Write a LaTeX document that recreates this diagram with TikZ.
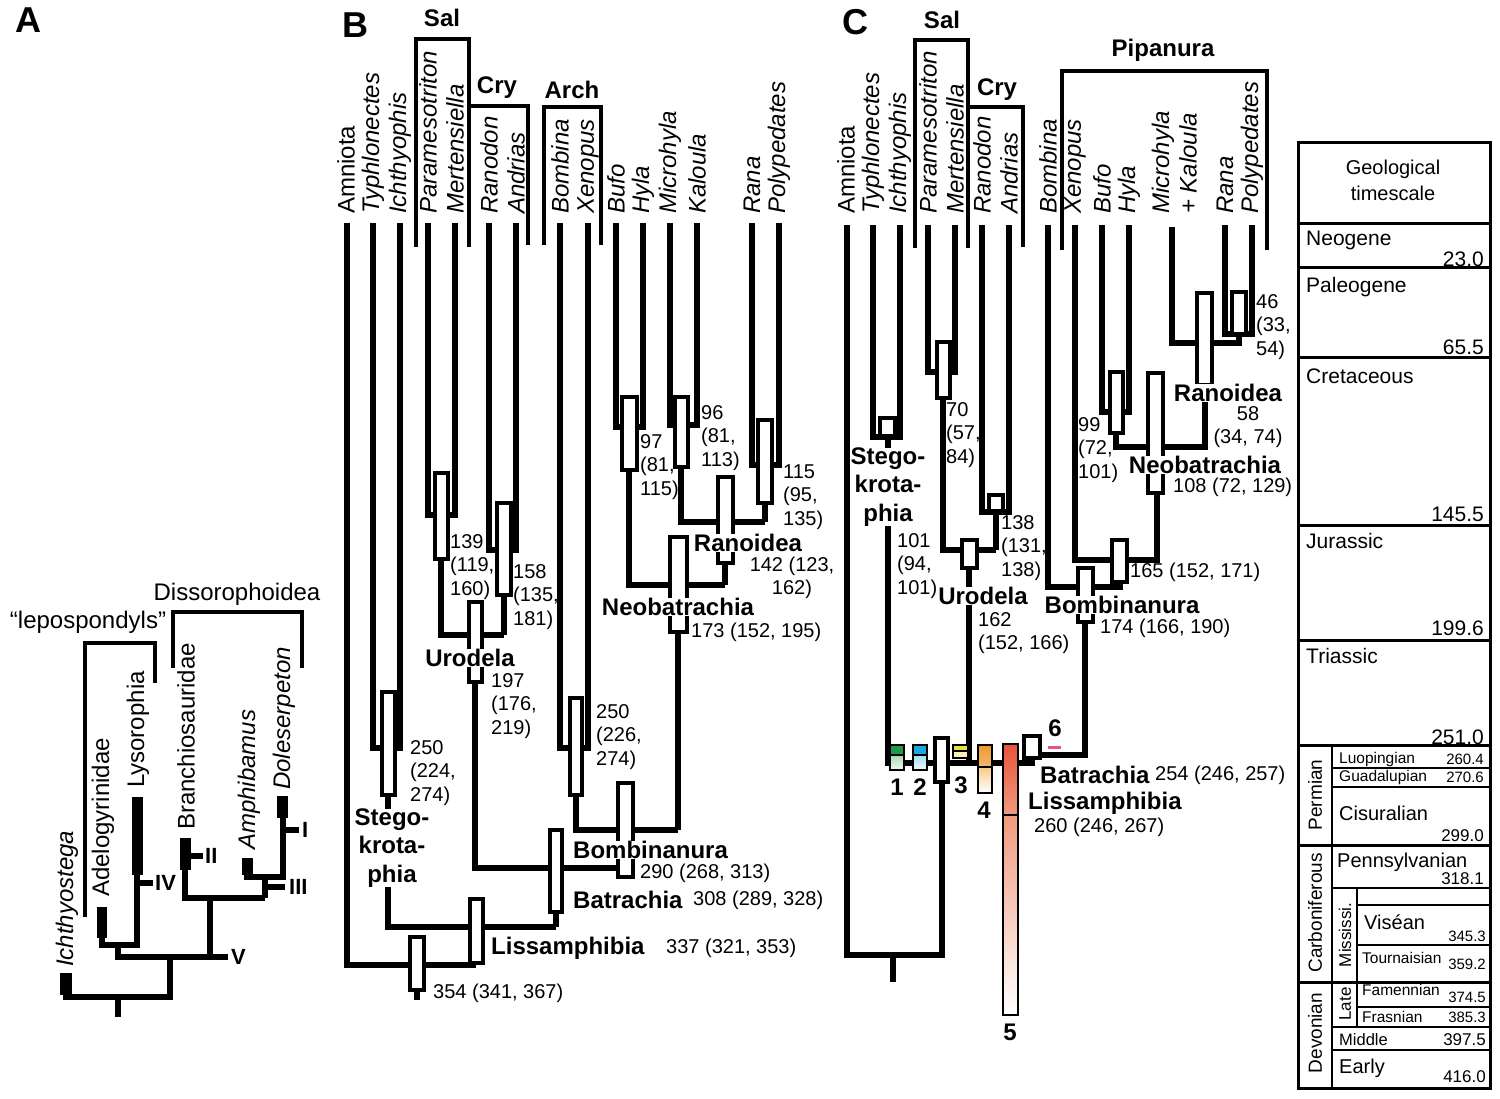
\documentclass[tikz,border=0pt]{standalone}
\usepackage{fontspec}
\setmainfont{Liberation Sans}

\definecolor{grnA}{HTML}{1E9A4B}
\definecolor{grnB}{HTML}{A7D9B4}
\definecolor{bluA}{HTML}{1DA5E0}
\definecolor{bluB}{HTML}{A5DAF4}
\definecolor{ylwA}{HTML}{EDE03A}
\definecolor{ylwB}{HTML}{F6F1B8}
\definecolor{orgA}{HTML}{EE9A2E}
\definecolor{orgB}{HTML}{F7CB8A}
\definecolor{redA}{HTML}{E6553A}
\definecolor{redB}{HTML}{F09A7E}
\definecolor{pinkbar}{HTML}{EC4F96}

\tikzset{
  branch/.style={line width=5.5pt, line join=miter},
  bracket/.style={line width=4pt, line join=miter},
  cibox/.style={draw, fill=white, line width=3.5pt},
  cbox/.style={draw, line width=2.5pt},
  taxon/.style={rotate=90, anchor=west, inner sep=0pt, font=\fontsize{24}{28}\selectfont\itshape},
  taxonup/.style={rotate=90, anchor=west, inner sep=0pt, font=\fontsize{24}{28}\selectfont},
  clade/.style={fill=white, inner sep=0pt, align=center, font=\fontsize{24}{28.5}\selectfont\bfseries},
  agetxt/.style={anchor=west, inner sep=0pt, align=left, font=\fontsize{20}{23.5}\selectfont},
  grouplabel/.style={inner sep=0pt, font=\fontsize{24}{28}\selectfont\bfseries},
  panelletter/.style={inner sep=0pt, font=\fontsize{36}{40}\selectfont\bfseries},
  numeral/.style={anchor=west, inner sep=0pt, font=\fontsize{22}{26}\selectfont\bfseries},
  periodtxt/.style={anchor=west, inner sep=0pt, font=\fontsize{21}{24}\selectfont},
  epochtxt/.style={anchor=west, inner sep=0pt, font=\fontsize{15.5}{18}\selectfont},
  myatxt/.style={anchor=east, inner sep=0pt, font=\fontsize{17}{20}\selectfont},
}

\begin{document}
\begin{tikzpicture}[x=1pt, y=-1pt]

        \useasboundingbox (0,0) rectangle (1500,1099);

        %===========================
        % A: early tetrapods
        %===========================
        \node[panelletter] (lA) at (28,20) {A};

        \draw[bracket] (85,917) -- (85,643) -- (155,643) -- (155,683);
        \draw[bracket] (173,668) -- (173,612) -- (302,612) -- (302,668);
        \node[inner sep=0pt, font=\fontsize{24}{28}\selectfont] (lepo) at (88,622) {“lepospondyls”};
        \node[inner sep=0pt, font=\fontsize{24}{28}\selectfont] (disso) at (237,594) {Dissorophoidea};

        \draw[branch] (66,985) -- (66,997) -- (170,997) -- (170,957);
        \draw[branch] (118,997) -- (118,1017);
        \draw[branch] (118,945) -- (118,957) -- (228,957);
        \draw[branch] (102,930) -- (102,945) -- (137,945) -- (137,860);
        \draw[branch] (137,883) -- (153,883);
        \draw[branch] (185,860) -- (185,898) -- (265,898);
        \draw[branch] (210,898) -- (210,957);
        \draw[branch] (191,856) -- (203,856);
        \draw[branch] (247,870) -- (247,877) -- (283,877) -- (283,810);
        \draw[branch] (265,877) -- (265,898);
        \draw[branch] (265,887) -- (285,887);
        \draw[branch] (283,830) -- (299,830);

        % fossil ranges
        \fill (60,973) rectangle (72,995);
        \fill (97,907) rectangle (107,938);
        \fill (132,797) rectangle (143,875);
        \fill (180,838) rectangle (191,870);
        \fill (242,858) rectangle (253,875);
        \fill (277,796) rectangle (288,818);

        \node[taxon] (aIch) at (67,967) {Ichthyostega};
        \node[taxonup] (aAde) at (103,897) {Adelogyrinidae};
        \node[taxonup] (aLys) at (138,788) {Lysorophia};
        \node[taxonup] (aBra) at (186,830) {Branchiosauridae};
        \node[taxon] (aAmp) at (249,850) {Amphibamus};
        \node[taxon] (aDol) at (284,790) {Doleserpeton};

        \node[numeral] (nI) at (302,830) {I};
        \node[numeral] (nII) at (205,856) {II};
        \node[numeral] (nIII) at (289,887) {III};
        \node[numeral] (nIV) at (155,883) {IV};
        \node[numeral] (nV) at (231,957) {V};

        %===========================
        % B: lissamphibian phylogeny
        %===========================
        \node[panelletter] (lB) at (355,25) {B};
        \node[grouplabel] (bSal) at (442,18) {Sal};
        \node[grouplabel] (bCry) at (497,88) {Cry};
        \node[grouplabel] (bArch) at (572,90) {Arch};
        \draw[bracket] (416,247) -- (416,39) -- (469,39) -- (469,247);
        \draw[bracket] (469,106) -- (528,106) -- (528,245);
        \draw[bracket] (544,245) -- (544,107) -- (601,107) -- (601,245);

        \node[taxonup] (bAmn) at (346,214) {Amniota};
        \node[taxon] (bTyp) at (373,214) {Typhlonectes};
        \node[taxon] (bIch) at (400,214) {Ichthyophis};
        \node[taxon] (bPar) at (428,214) {Paramesotriton};
        \node[taxon] (bMer) at (455,214) {Mertensiella};
        \node[taxon] (bRan) at (489,214) {Ranodon};
        \node[taxon] (bAnd) at (516,214) {Andrias};
        \node[taxon] (bBom) at (560,214) {Bombina};
        \node[taxon] (bXen) at (588,214) {Xenopus};
        \node[taxon] (bBuf) at (616,214) {Bufo};
        \node[taxon] (bHyl) at (643,214) {Hyla};
        \node[taxon] (bMic) at (670,214) {Microhyla};
        \node[taxon] (bKal) at (697,214) {Kaloula};
        \node[taxon] (bRna) at (752,214) {Rana};
        \node[taxon] (bPol) at (779,214) {Polypedates};

        % branches
        \draw[branch] (347,223) -- (347,965) -- (476,965);
        \draw[branch] (373,223) -- (373,748) -- (400,748) -- (400,223);
        \draw[branch] (388,795) -- (388,927) -- (556,927);
        \draw[branch] (428,223) -- (428,515) -- (455,515) -- (455,223);
        \draw[branch] (441,559) -- (441,635) -- (504,635);
        \draw[branch] (489,223) -- (489,550) -- (516,550) -- (516,223);
        \draw[branch] (504,595) -- (504,635);
        \draw[branch] (475,682) -- (475,868) -- (625,868);
        \draw[branch] (560,223) -- (560,748) -- (588,748) -- (588,223);
        \draw[branch] (576,795) -- (576,830) -- (678,830);
        \draw[branch] (616,223) -- (616,427) -- (643,427) -- (643,223);
        \draw[branch] (629,470) -- (629,585) -- (725,585);
        \draw[branch] (670,223) -- (670,425) -- (697,425) -- (697,223);
        \draw[branch] (681,467) -- (681,522) -- (765,522);
        \draw[branch] (752,223) -- (752,465) -- (779,465) -- (779,223);
        \draw[branch] (765,503) -- (765,522);
        \draw[branch] (725,563) -- (725,585);
        \draw[branch] (678,632) -- (678,830);
        \draw[branch] (556,912) -- (556,927);
        \draw[branch] (417,990) -- (417,1000);

        % intervals
        \draw[cibox] (382,692) rectangle (395,795);
        \draw[cibox] (435,473) rectangle (448,559);
        \draw[cibox] (497,503) rectangle (511,595);
        \draw[cibox] (469,602) rectangle (482,682);
        \draw[cibox] (570,698) rectangle (582,795);
        \draw[cibox] (622,397) rectangle (637,470);
        \draw[cibox] (675,397) rectangle (688,467);
        \draw[cibox] (758,420) rectangle (772,503);
        \draw[cibox] (718,477) rectangle (733,563);
        \draw[cibox] (670,537) rectangle (687,632);
        \draw[cibox] (618,783) rectangle (633,877);
        \draw[cibox] (550,830) rectangle (562,912);
        \draw[cibox] (470,899) rectangle (483,963);
        \draw[cibox] (410,937) rectangle (424,990);

        \node[clade] (bStego) at (392,848) {Stego-\\krota-\\phia};
        \node[clade] (bUro) at (470,658) {Urodela};
        \node[clade] (bRanoid) at (748,543) {Ranoidea};
        \node[clade] (bNeo) at (678,607) {Neobatrachia};
        \node[clade, anchor=west] (bBombi) at (573,850) {Bombinanura};
        \node[clade, anchor=west] (bBatr) at (573,900) {Batrachia};
        \node[clade, anchor=west] (bLiss) at (491,948) {Lissamphibia};

        \node[agetxt] (b139) at (450,567) {139\\(119,\\160)};
        \node[agetxt] (b158) at (513,597) {158\\(135,\\181)};
        \node[agetxt] (b197) at (491,706) {197\\(176,\\219)};
        \node[agetxt] (b250c) at (410,773) {250\\(224,\\274)};
        \node[agetxt] (b250a) at (596,737) {250\\(226,\\274)};
        \node[agetxt] (b97) at (640,467) {97\\(81,\\115)};
        \node[agetxt] (b96) at (701,438) {96\\(81,\\113)};
        \node[agetxt] (b115) at (783,497) {115\\(95,\\135)};
        \node[agetxt, anchor=center, align=center] (b142) at (792,578) {142 (123,\\162)};
        \node[agetxt] (b173) at (691,632) {173 (152, 195)};
        \node[agetxt] (b290) at (640,873) {290 (268, 313)};
        \node[agetxt] (b308) at (693,900) {308 (289, 328)};
        \node[agetxt] (b337) at (666,948) {337 (321, 353)};
        \node[agetxt] (b354) at (433,993) {354 (341, 367)};

        %===========================
        % C: revised dates
        %===========================
        \node[panelletter] (lC) at (855,22) {C};
        \node[grouplabel] (cSal) at (942,20) {Sal};
        \node[grouplabel] (cCry) at (997,90) {Cry};
        \node[grouplabel] (cPip) at (1163,50) {Pipanura};
        \draw[bracket] (915,248) -- (915,40) -- (968,40) -- (968,248);
        \draw[bracket] (968,107) -- (1023,107) -- (1023,247);
        \draw[bracket] (1062,250) -- (1062,71) -- (1267,71) -- (1267,250);

        \node[taxonup] (cAmn) at (846,214) {Amniota};
        \node[taxon] (cTyp) at (873,214) {Typhlonectes};
        \node[taxon] (cIch) at (900,214) {Ichthyophis};
        \node[taxon] (cPar) at (928,214) {Paramesotriton};
        \node[taxon] (cMer) at (955,214) {Mertensiella};
        \node[taxon] (cRan) at (982,214) {Ranodon};
        \node[taxon] (cAnd) at (1009,214) {Andrias};
        \node[taxon] (cBom) at (1048,214) {Bombina};
        \node[taxon] (cXen) at (1075,214) {Xenopus};
        \node[taxon] (cBuf) at (1102,214) {Bufo};
        \node[taxon] (cHyl) at (1129,214) {Hyla};
        \node[taxon] (cMic) at (1163,214) {Microhyla};
        \node[taxon] (cKal) at (1188,214) {+ Kaloula};
        \node[taxon] (cRna) at (1225,214) {Rana};
        \node[taxon] (cPol) at (1252,214) {Polypedates};

        % branches
        \draw[branch] (847,225) -- (847,955) -- (942,955) -- (942,782);
        \draw[branch] (893,955) -- (893,982);
        \draw[branch] (873,225) -- (873,437) -- (900,437) -- (900,225);
        \draw[branch] (888,436) -- (888,763) -- (1032,763) -- (1032,755);
        \draw[branch] (928,225) -- (928,372) -- (955,372) -- (955,225);
        \draw[branch] (943,398) -- (943,550) -- (996,550);
        \draw[branch] (982,225) -- (982,512) -- (1009,512) -- (1009,225);
        \draw[branch] (996,511) -- (996,550);
        \draw[branch] (969,568) -- (969,760);
        \draw[branch] (1048,225) -- (1048,587) -- (1120,587) -- (1120,582);
        \draw[branch] (1075,225) -- (1075,560) -- (1157,560) -- (1157,493);
        \draw[branch] (1102,225) -- (1102,412) -- (1129,412) -- (1129,225);
        \draw[branch] (1116,433) -- (1116,447) -- (1205,447) -- (1205,385);
        \draw[branch] (1172,227) -- (1172,343) -- (1239,343) -- (1239,334);
        \draw[branch] (1225,225) -- (1225,334) -- (1252,334) -- (1252,225);
        \draw[branch] (1085,622) -- (1085,755) -- (1040,755);

        % intervals
        \draw[cibox] (880,418) rectangle (895,436);
        \draw[cibox] (937,342) rectangle (950,398);
        \draw[cibox] (989,495) rectangle (1003,511);
        \draw[cibox] (962,540) rectangle (977,568);
        \draw[cibox] (1232,292) rectangle (1246,334);
        \draw[cibox] (1197,293) rectangle (1212,385);
        \draw[cibox] (1110,372) rectangle (1123,433);
        \draw[cibox] (1148,373) rectangle (1163,493);
        \draw[cibox] (1112,540) rectangle (1127,582);
        \draw[cibox] (1078,568) rectangle (1093,622);
        \draw[cibox] (935,738) rectangle (948,782);
        \draw[cibox] (1024,736) rectangle (1040,758);

        % calibration intervals
        \draw[cbox, fill=grnA] (890,745) rectangle (904,755);
        \draw[cbox, top color=grnB, bottom color=grnB!15!white] (890,755) rectangle (904,770);
        \draw[cbox, fill=bluA] (913,745) rectangle (927,755);
        \draw[cbox, top color=bluB, bottom color=bluB!15!white] (913,755) rectangle (927,770);
        \draw[cbox, fill=ylwA] (953,745) rectangle (968,751);
        \draw[cbox, fill=ylwB] (953,751) rectangle (968,758);
        \draw[cbox, top color=orgA, bottom color=orgA!70!white] (978,745) rectangle (992,767);
        \draw[cbox, top color=orgB, bottom color=white] (978,767) rectangle (992,793);
        \draw[cbox, top color=redA, bottom color=redB] (1003,744) rectangle (1018,815);
        \draw[cbox, top color=redB, bottom color=white] (1003,815) rectangle (1018,1015);
        \draw[line width=3pt, pinkbar] (1048,747) -- (1061,747);

        \node[grouplabel] (c1) at (897,787) {1};
        \node[grouplabel] (c2) at (920,787) {2};
        \node[grouplabel] (c3) at (961,785) {3};
        \node[grouplabel] (c4) at (984,810) {4};
        \node[grouplabel] (c5) at (1010,1032) {5};
        \node[grouplabel] (c6) at (1055,728) {6};

        \node[clade] (cStego) at (888,487) {Stego-\\krota-\\phia};
        \node[clade] (cUro) at (983,596) {Urodela};
        \node[clade] (cBombi) at (1122,605) {Bombinanura};
        \node[clade] (cNeo) at (1205,465) {Neobatrachia};
        \node[clade] (cRanoid) at (1228,393) {Ranoidea};
        \node[clade, anchor=west] (cBatr) at (1040,775) {Batrachia};
        \node[clade, anchor=west] (cLiss) at (1028,803) {Lissamphibia};

        \node[agetxt] (c101) at (897,566) {101\\(94,\\101)};
        \node[agetxt] (c70) at (946,435) {70\\(57,\\84)};
        \node[agetxt] (c138) at (1001,548) {138\\(131,\\138)};
        \node[agetxt] (c162) at (978,633) {162\\(152, 166)};
        \node[agetxt] (c99) at (1078,450) {99\\(72,\\101)};
        \node[agetxt] (c165) at (1130,572) {165 (152, 171)};
        \node[agetxt] (c108) at (1173,487) {108 (72, 129)};
        \node[agetxt] (c174) at (1100,628) {174 (166, 190)};
        \node[agetxt, anchor=center, align=center] (c58) at (1248,427) {58\\(34, 74)};
        \node[agetxt] (c46) at (1256,327) {46\\(33,\\54)};
        \node[agetxt] (c254) at (1155,775) {254 (246, 257)};
        \node[agetxt] (c260) at (1034,827) {260 (246, 267)};

        %===========================
        % Geological timescale
        %===========================
        \draw[line width=3pt] (1298,143) rectangle (1490,1088);
        \draw[line width=3pt] (1298,224) -- (1490,224);
        \draw[line width=3pt] (1298,268) -- (1490,268);
        \draw[line width=3pt] (1298,358) -- (1490,358);
        \draw[line width=3pt] (1298,525) -- (1490,525);
        \draw[line width=3pt] (1298,640) -- (1490,640);
        \draw[line width=3pt] (1298,745) -- (1490,745);
        \draw[line width=3pt] (1298,845) -- (1490,845);
        \draw[line width=3pt] (1298,982) -- (1490,982);
        \draw[line width=2pt] (1332,745) -- (1332,1088);
        \draw[line width=1.5pt] (1332,768) -- (1490,768);
        \draw[line width=1.5pt] (1332,787) -- (1490,787);
        \draw[line width=1.5pt] (1332,888) -- (1490,888);
        \draw[line width=1.5pt] (1357,888) -- (1357,982);
        \draw[line width=1.5pt] (1357,905) -- (1490,905);
        \draw[line width=1.5pt] (1357,945) -- (1490,945);
        \draw[line width=1.5pt] (1357,982) -- (1357,1027);
        \draw[line width=1.5pt] (1357,1007) -- (1490,1007);
        \draw[line width=1.5pt] (1332,1027) -- (1490,1027);
        \draw[line width=1.5pt] (1332,1050) -- (1490,1050);

        \node[periodtxt, anchor=center, align=center, font=\fontsize{20}{26}\selectfont] (tHead) at (1393,180) {Geological\\timescale};
        \node[periodtxt] (tNeo) at (1306,240) {Neogene};
        \node[periodtxt] (tPal) at (1306,287) {Paleogene};
        \node[periodtxt] (tCre) at (1306,376) {Cretaceous};
        \node[periodtxt] (tJur) at (1306,541) {Jurassic};
        \node[periodtxt] (tTri) at (1306,656) {Triassic};
        \node[periodtxt, anchor=east] (t230) at (1484,259) {23.0};
        \node[periodtxt, anchor=east] (t655) at (1484,347) {65.5};
        \node[periodtxt, anchor=east] (t1455) at (1484,514) {145.5};
        \node[periodtxt, anchor=east] (t1996) at (1484,628) {199.6};
        \node[periodtxt, anchor=east] (t2510) at (1484,737) {251.0};

        \node[periodtxt, anchor=center, rotate=90, font=\fontsize{19}{22}\selectfont] (tPer) at (1315,795) {Permian};
        \node[periodtxt, anchor=center, rotate=90, font=\fontsize{19}{22}\selectfont] (tCar) at (1315,913) {Carboniferous};
        \node[periodtxt, anchor=center, rotate=90, font=\fontsize{19}{22}\selectfont] (tDev) at (1315,1033) {Devonian};
        \node[periodtxt, anchor=center, rotate=90, font=\fontsize{17}{20}\selectfont] (tMis) at (1345,935) {Mississi.};
        \node[periodtxt, anchor=center, rotate=90, font=\fontsize{17}{20}\selectfont] (tLat) at (1345,1004) {Late};

        \node[epochtxt] (tLuo) at (1339,759) {Luopingian};
        \node[epochtxt] (tGua) at (1339,777) {Guadalupian};
        \node[periodtxt, font=\fontsize{20}{24}\selectfont] (tCis) at (1339,813) {Cisuralian};
        \node[periodtxt, font=\fontsize{20}{24}\selectfont] (tPen) at (1337,862) {Pennsylvanian};
        \node[periodtxt, font=\fontsize{20}{24}\selectfont] (tVis) at (1364,922) {Viséan};
        \node[epochtxt] (tTou) at (1362,958) {Tournaisian};
        \node[epochtxt] (tFam) at (1362,990) {Famennian};
        \node[epochtxt] (tFra) at (1362,1017) {Frasnian};
        \node[epochtxt, font=\fontsize{16.5}{20}\selectfont] (tMid) at (1339,1040) {Middle};
        \node[periodtxt, font=\fontsize{20}{24}\selectfont] (tEar) at (1339,1068) {Early};

        \node[myatxt, font=\fontsize{15}{18}\selectfont] (t2604) at (1484,759) {260.4};
        \node[myatxt, font=\fontsize{15}{18}\selectfont] (t2706) at (1484,777) {270.6};
        \node[myatxt] (t2990) at (1484,836) {299.0};
        \node[myatxt] (t3181) at (1484,879) {318.1};
        \node[myatxt, font=\fontsize{15}{18}\selectfont] (t3453) at (1486,936) {345.3};
        \node[myatxt, font=\fontsize{15}{18}\selectfont] (t3592) at (1486,964) {359.2};
        \node[myatxt, font=\fontsize{15}{18}\selectfont] (t3745) at (1486,997) {374.5};
        \node[myatxt, font=\fontsize{15}{18}\selectfont] (t3853) at (1486,1017) {385.3};
        \node[myatxt] (t3975) at (1486,1040) {397.5};
        \node[myatxt] (t4160) at (1486,1077) {416.0};

\end{tikzpicture}
\end{document}
